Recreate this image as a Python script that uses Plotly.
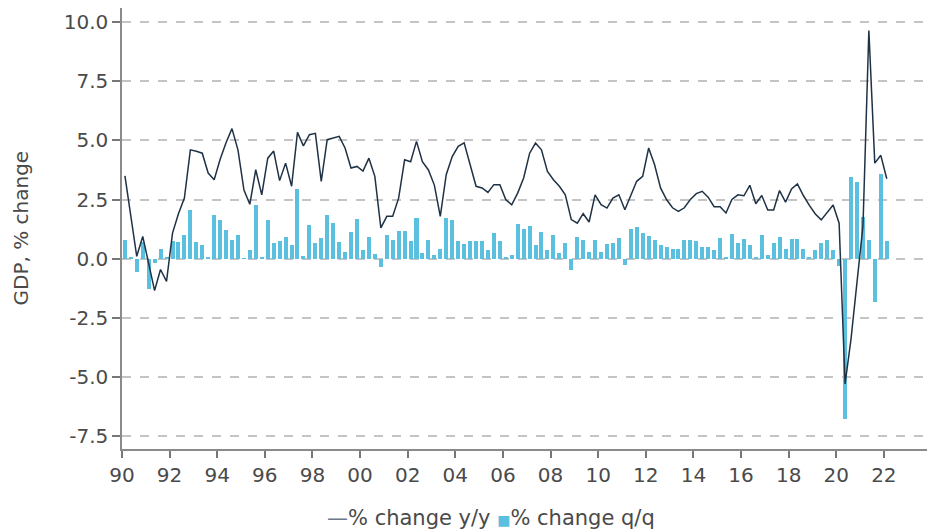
import pandas as pd
import plotly.graph_objects as go

# Quarterly data, 1990Q1 - 2022Q1
start_quarter = "1990Q1"

yoy = [
    3.5, 1.8, 0.1, 0.94,
    -0.2, -1.35, -0.46, -0.96,
    1.08, 1.9, 2.56, 4.6,
    4.54, 4.46, 3.62, 3.34,
    4.2, 4.9, 5.5, 4.6,
    2.9, 2.3, 3.76, 2.7,
    4.25, 4.55, 3.3, 4.04,
    3.06, 5.34, 4.77, 5.24,
    5.3, 3.27, 5.03, 5.1,
    5.17, 4.68, 3.83, 3.9,
    3.7, 4.25, 3.48, 1.3,
    1.79, 1.79, 2.56, 4.18,
    4.1, 4.96, 4.1, 3.75,
    3.1, 1.79, 3.55, 4.32,
    4.75, 4.9, 3.97, 3.06,
    2.99, 2.8, 3.13, 3.13,
    2.49, 2.28, 2.77, 3.41,
    4.46, 4.89, 4.6, 3.69,
    3.34, 3.06, 2.7, 1.65,
    1.5, 1.9, 1.55, 2.7,
    2.28, 2.14, 2.56, 2.7,
    2.07, 2.63, 3.27, 3.48,
    4.68, 3.97, 2.99, 2.5,
    2.15, 2.0, 2.15, 2.5,
    2.75, 2.85, 2.6, 2.2,
    2.2, 1.93, 2.5, 2.7,
    2.66, 3.1, 2.32, 2.67,
    2.06, 2.06, 2.88, 2.39,
    2.95, 3.16, 2.67, 2.25,
    1.89, 1.64, 1.96, 2.27,
    1.5, -5.3, -3.4, -0.9,
    1.4, 9.65, 4.04, 4.37,
    3.38,
]

qoq = [
    0.78, 0.07, -0.56, 0.7,
    -1.27, -0.2, 0.42, 0.05,
    0.75, 0.7, 1.0, 2.05,
    0.7, 0.56, 0.07, 1.84,
    1.62, 1.2, 0.78, 1.02,
    0.02, 0.38, 2.26, 0.07,
    1.62, 0.66, 0.75, 0.92,
    0.58, 2.95, 0.1, 1.41,
    0.66, 0.89, 1.85, 1.5,
    0.7, 0.28, 1.13, 1.67,
    0.38, 0.9, 0.21, -0.35,
    0.99, 0.8, 1.17, 1.17,
    0.75, 1.7, 0.24, 0.8,
    0.14, 0.42, 1.7, 1.62,
    0.75, 0.64, 0.75, 0.75,
    0.75, 0.38, 1.09, 0.75,
    0.07, 0.17, 1.48, 1.27,
    1.37, 0.56, 1.13, 0.38,
    0.99, 0.24, 0.66, -0.47,
    0.92, 0.78, 0.3, 0.78,
    0.3, 0.64, 0.66, 0.89,
    -0.28, 1.24, 1.34, 1.09,
    0.95, 0.78, 0.56, 0.49,
    0.42, 0.42, 0.78, 0.78,
    0.73, 0.49, 0.49, 0.35,
    0.89, 0.07, 1.03, 0.66,
    0.85, 0.59, 0.08, 1.0,
    0.17, 0.65, 0.9, 0.41,
    0.83, 0.83, 0.41, 0.08,
    0.37, 0.65, 0.79, 0.37,
    -0.3, -6.79, 3.47, 3.26,
    1.75, 0.79, -1.85, 3.6,
    0.73,
]

y_tick_values = [-7.5, -5.0, -2.5, 0.0, 2.5, 5.0, 7.5, 10.0]
y_tick_labels = ["-7.5", "-5.0", "-2.5", "0.0", "2.5", "5.0", "7.5", "10.0"]

series_names = ["% change y/y", "% change q/q"]
y_title = "GDP, % change"

dates = (pd.period_range(start_quarter, periods=len(yoy), freq="Q").to_timestamp()
         + pd.Timedelta(days=45))

LINE_COLOR = "#1f3245"
BAR_COLOR = "#5bc0df"
TEXT_COLOR = "#4a4a4a"
FONT = "DejaVu Sans"

fig = go.Figure()
fig.add_trace(go.Bar(
    x=dates, y=qoq, name=series_names[1],
    marker=dict(color=BAR_COLOR, line=dict(width=0)),
    width=62 * 86400000,
))
fig.add_trace(go.Scatter(
    x=dates, y=yoy, name=series_names[0], mode="lines",
    line=dict(color=LINE_COLOR, width=1.5),
))

fig.update_layout(
    width=927, height=529,
    margin=dict(l=122, r=0, t=8, b=80),
    paper_bgcolor="white", plot_bgcolor="white",
    showlegend=False,
    bargap=0,
    font=dict(family=FONT, size=20, color=TEXT_COLOR),
    xaxis=dict(
        type="date",
        range=["1990-01-01", "2023-10-25"],
        tick0="1990-01-01", dtick="M24", tickformat="%y",
        ticks="outside", ticklen=7, tickwidth=1.5, tickcolor="#777",
        showline=True, linecolor="#8a8a8a", linewidth=1.5,
        showgrid=False, zeroline=False,
        tickfont=dict(family=FONT, size=20, color=TEXT_COLOR),
    ),
    yaxis=dict(
        range=[-8.05, 10.6],
        tickvals=y_tick_values, ticktext=y_tick_labels,
        ticks="outside", ticklen=8, tickwidth=1.5, tickcolor="#777",
        showline=True, linecolor="#8a8a8a", linewidth=1.5,
        showgrid=True, gridcolor="#c4c4c4", gridwidth=1.5, griddash="dash",
        zeroline=False,
        tickfont=dict(family=FONT, size=20, color=TEXT_COLOR),
    ),
)

fig.add_annotation(
    text=y_title, textangle=-90,
    xref="paper", yref="paper", x=(20 - 122) / 805, y=0.5,
    xanchor="center", yanchor="middle", showarrow=False,
    font=dict(family=FONT, size=20, color=TEXT_COLOR),
)

legend_text = (
    f'<span style="color:#6a7a88">—</span>{series_names[0]} '
    f'<span style="color:{BAR_COLOR};font-size:14px">■</span>{series_names[1]}'
)
fig.add_annotation(
    text=legend_text,
    xref="paper", yref="paper", x=(491 - 122) / 805, y=(449 - 518) / 441,
    xanchor="center", yanchor="middle", showarrow=False,
    font=dict(family=FONT, size=21, color=TEXT_COLOR),
)

fig.write_html(
    "out.html",
    config={"displayModeBar": False},
    post_script="document.body.style.margin='0px'; document.body.style.overflow='hidden';",
)
